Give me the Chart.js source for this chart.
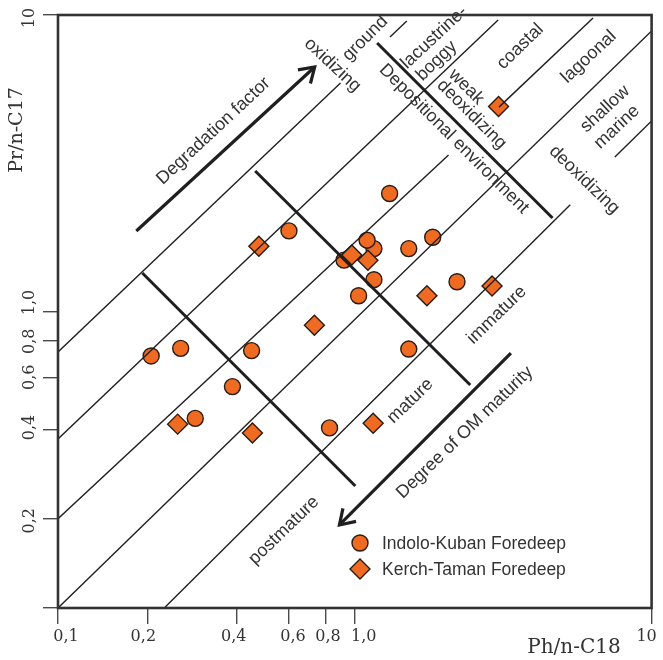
<!DOCTYPE html>
<html>
<head>
<meta charset="utf-8">
<script src="https://cdn.jsdelivr.net/npm/chart.js@4.4.0/dist/chart.umd.min.js"></script>
<style>
  html, body { margin: 0; padding: 0; background: #ffffff; }
  #wrap { width: 663px; height: 660px; position: relative; }
</style>
</head>
<body>
<div id="wrap"><canvas id="c"></canvas></div>
<script>
// ---- Axis ticks (log scales, decimal comma labels) ----
const xTickValues = [0.1, 0.2, 0.4, 0.6, 0.8, 1.0, 10];
const xTickLabels = ['0,1', '0,2', '0,4', '0,6', '0,8', '1,0', '10'];
const yTickValues = [0.1, 0.2, 0.4, 0.6, 0.8, 1.0, 10];
const yTickLabels = ['', '0,2', '0,4', '0,6', '0,8', '1,0', '10'];
// small hand-set shifts of the printed labels along their axis (px)
const xLabelShift = [8, -4, -3, 4, 2, 9, -5];
const yLabelShift = [0, 2, -2, 0, 1, -9, 3];

// ---- Samples: Ph/n-C18 (x) against Pr/n-C17 (y) ----
const indoloPh = [1.31, 0.60, 1.16, 1.10, 1.52, 1.83, 0.92, 1.16, 1.03, 2.21, 0.206, 0.259, 0.449, 1.52, 0.387, 0.290, 0.822];
const indoloPr = [2.50, 1.87, 1.63, 1.74, 1.63, 1.78, 1.49, 1.28, 1.13, 1.26, 0.708, 0.751, 0.738, 0.747, 0.558, 0.436, 0.405];
const kerchPh = [0.475, 0.977, 1.107, 0.731, 1.75, 2.90, 3.05, 0.253, 0.452, 1.153];
const kerchPr = [1.66, 1.55, 1.49, 0.899, 1.13, 1.22, 4.91, 0.417, 0.389, 0.420];

// ---- Pr/Ph boundary lines, each a pair of [Ph, Pr] vertices ----
const prPhLines = [
  [[0.1, 0.730], [0.895, 5.90]],
  [[1.314, 8.43], [1.497, 9.55]],
  [[0.1, 0.3715], [3.04, 9.62]],
  [[0.1, 0.2], [2.07, 3.37]],
  [[3.06, 4.89], [6.35, 9.77]],
  [[0.1, 0.1], [10, 8.83]],
  [[0.228, 0.1], [5.32, 2.29]],
  [[7.52, 3.32], [10, 4.39]]
];
// Maturity stage and depositional-environment dividers
const dividers = [
  [[0.1923, 1.348], [1.004, 0.258]],
  [[0.4618, 2.978], [2.449, 0.565]],
  [[1.189, 8.045], [4.637, 2.067]]
];
// Trend arrows, tail -> head
const trendArrows = [
  [[0.1836, 1.868], [0.7325, 6.676]],
  [[3.357, 0.7244], [0.8876, 0.1906]]
];

// Zone names written across the diagram
const zoneLabels = [
  { text: 'Degradation factor', ph: 0.334, pr: 4.06, angle: -43 },
  { text: 'oxidizing', ph: 0.841, pr: 6.78, angle: 43 },
  { text: 'ground', ph: 1.084, pr: 8.33, angle: -45 },
  { text: 'lacustrine-', ph: 1.85, pr: 8.40, angle: -43 },
  { text: 'boggy', ph: 1.886, pr: 7.00, angle: -44 },
  { text: 'coastal', ph: 3.61, pr: 7.83, angle: -44 },
  { text: 'lagoonal', ph: 6.14, pr: 7.22, angle: -43 },
  { text: 'shallow', ph: 6.97, pr: 4.82, angle: -43 },
  { text: 'marine', ph: 7.64, pr: 4.19, angle: -43 },
  { text: 'weak', ph: 2.375, pr: 5.72, angle: 45 },
  { text: 'deoxidizing', ph: 2.477, pr: 4.62, angle: 45 },
  { text: 'Depositional environment', ph: 2.158, pr: 3.82, angle: 45 },
  { text: 'deoxidizing', ph: 5.93, pr: 2.78, angle: 44 },
  { text: 'immature', ph: 3.01, pr: 0.973, angle: -44 },
  { text: 'mature', ph: 1.538, pr: 0.499, angle: -44 },
  { text: 'postmature', ph: 0.577, pr: 0.1826, angle: -44 },
  { text: 'Degree of OM maturity', ph: 2.348, pr: 0.3906, angle: -44 }
];

const INK = '#1f1f1f';
const TEXT = '#333333';
const ORANGE = '#F06B22';
const MARK_EDGE = '#2a1c12';
const SANS = '"Liberation Sans", Arial, Helvetica, sans-serif';
const SERIF = '"DejaVu Serif", "Liberation Serif", serif';

const toXY = (xs, ys) => xs.map((x, i) => ({ x, y: ys[i] }));
const lineDataset = (pts, width, extra) => Object.assign({
  data: pts.map(([x, y]) => ({ x, y })),
  showLine: true,
  borderColor: INK,
  borderWidth: width,
  pointRadius: 0,
  pointHoverRadius: 0,
  pointHitRadius: 0,
  borderCapStyle: 'butt',
  order: 1
}, extra || {});

const datasets = [
  {
    label: 'Indolo-Kuban Foredeep',
    data: toXY(indoloPh, indoloPr),
    pointStyle: 'circle', pointRadius: 8, pointHoverRadius: 8,
    backgroundColor: ORANGE, borderColor: MARK_EDGE, borderWidth: 1.4,
    showLine: false, order: 3, isSeries: true
  },
  {
    label: 'Kerch-Taman Foredeep',
    data: toXY(kerchPh, kerchPr),
    pointStyle: 'rectRot', pointRadius: 10, pointHoverRadius: 10,
    backgroundColor: ORANGE, borderColor: MARK_EDGE, borderWidth: 1.4,
    showLine: false, order: 2, isSeries: true
  },
  ...prPhLines.map(p => lineDataset(p, 1.4)),
  ...dividers.map(p => lineDataset(p, 3)),
  ...trendArrows.map(p => lineDataset(p, 3.2, { arrowHead: true }))
];

// Frame, arrow heads, tick labels, axis titles, zone names and key
const decorations = {
  id: 'decorations',
  afterDatasetsDraw(chart) {
    const { ctx, chartArea: a } = chart;
    ctx.save();
    ctx.strokeStyle = '#333';
    ctx.lineWidth = 2.6;
    ctx.strokeRect(a.left, a.top, a.right - a.left, a.bottom - a.top);

    // open arrow heads at the end of each trend arrow
    chart.data.datasets.forEach((ds, i) => {
      if (!ds.arrowHead) return;
      const pts = chart.getDatasetMeta(i).data;
      const p0 = pts[pts.length - 2], p1 = pts[pts.length - 1];
      const ang = Math.atan2(p0.y - p1.y, p0.x - p1.x);
      const len = 17, spread = 33 * Math.PI / 180;
      ctx.strokeStyle = INK;
      ctx.lineWidth = 3.2;
      ctx.lineJoin = 'miter';
      ctx.beginPath();
      ctx.moveTo(p1.x + len * Math.cos(ang + spread), p1.y + len * Math.sin(ang + spread));
      ctx.lineTo(p1.x, p1.y);
      ctx.lineTo(p1.x + len * Math.cos(ang - spread), p1.y + len * Math.sin(ang - spread));
      ctx.stroke();
    });
    ctx.restore();
  },
  afterDraw(chart) {
    const { ctx, chartArea: a } = chart;
    const xs = chart.scales.x, ys = chart.scales.y;
    ctx.save();

    // tick labels
    ctx.fillStyle = TEXT;
    ctx.font = '16px ' + SERIF;
    ctx.textAlign = 'center';
    ctx.textBaseline = 'middle';
    xTickValues.forEach((v, i) => {
      let px = xs.getPixelForValue(v) + xLabelShift[i];
      const w = ctx.measureText(xTickLabels[i]).width;
      px = Math.min(px, chart.width - w / 2 - 1);
      ctx.fillText(xTickLabels[i], px, a.bottom + 29);
    });
    yTickValues.forEach((v, i) => {
      if (!yTickLabels[i]) return;
      ctx.save();
      ctx.translate(a.left - 28, ys.getPixelForValue(v) + yLabelShift[i]);
      ctx.rotate(-Math.PI / 2);
      ctx.fillText(yTickLabels[i], 0, 0);
      ctx.restore();
    });

    // axis titles
    ctx.font = '20px ' + SERIF;
    ctx.fillText('Ph/n-C18', 574, a.bottom + 40);
    ctx.font = '19px ' + SERIF;
    ctx.save();
    ctx.translate(17, 130);
    ctx.rotate(-Math.PI / 2);
    ctx.fillText('Pr/n-C17', 0, 0);
    ctx.restore();

    // zone names
    ctx.font = '18px ' + SANS;
    ctx.fillStyle = TEXT;
    zoneLabels.forEach(l => {
      ctx.save();
      ctx.translate(xs.getPixelForValue(l.ph), ys.getPixelForValue(l.pr));
      ctx.rotate(l.angle * Math.PI / 180);
      ctx.fillText(l.text, 0, 0);
      ctx.restore();
    });

    // key
    const series = chart.data.datasets.filter(d => d.isSeries);
    const kx = a.left + 302, ky = a.top + 528, step = 26;
    ctx.font = '17.5px ' + SANS;
    ctx.textAlign = 'left';
    series.forEach((ds, i) => {
      const cy = ky + i * step;
      ctx.fillStyle = ds.backgroundColor;
      ctx.strokeStyle = ds.borderColor;
      ctx.lineWidth = ds.borderWidth;
      ctx.beginPath();
      if (ds.pointStyle === 'circle') {
        ctx.arc(kx, cy, ds.pointRadius, 0, Math.PI * 2);
      } else {
        const r = ds.pointRadius;
        ctx.moveTo(kx - r, cy); ctx.lineTo(kx, cy - r);
        ctx.lineTo(kx + r, cy); ctx.lineTo(kx, cy + r);
        ctx.closePath();
      }
      ctx.fill();
      ctx.stroke();
      ctx.fillStyle = TEXT;
      ctx.fillText(ds.label, kx + 22, cy + 1);
    });
    ctx.restore();
  }
};

new Chart(document.getElementById('c'), {
  type: 'scatter',
  data: { datasets },
  options: {
    responsive: true,
    maintainAspectRatio: false,
    animation: false,
    devicePixelRatio: 1,
    layout: { padding: { left: 0, right: 6, top: 15, bottom: 0 } },
    plugins: { legend: { display: false }, tooltip: { enabled: false } },
    events: [],
    scales: {
      x: {
        type: 'logarithmic', min: 0.1, max: 10,
        afterBuildTicks: s => { s.ticks = xTickValues.map(v => ({ value: v })); },
        afterFit: s => { s.height = 52; },
        ticks: { display: false },
        grid: { drawOnChartArea: false, drawTicks: true, tickLength: 16, color: '#4a4a4a', lineWidth: 1.4 },
        border: { display: false }
      },
      y: {
        type: 'logarithmic', min: 0.1, max: 10,
        afterBuildTicks: s => { s.ticks = yTickValues.map(v => ({ value: v })); },
        afterFit: s => { s.width = 58; },
        ticks: { display: false },
        grid: { drawOnChartArea: false, drawTicks: true, tickLength: 15, color: '#4a4a4a', lineWidth: 1.4 },
        border: { display: false }
      }
    }
  },
  plugins: [decorations]
});
</script>
</body>
</html>
